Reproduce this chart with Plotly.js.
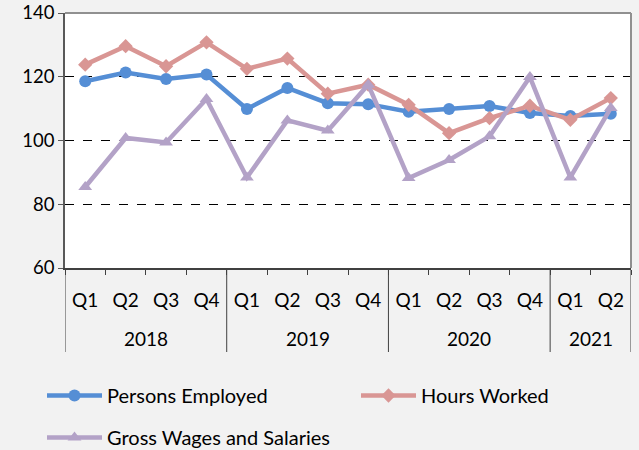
<!DOCTYPE html>
<html>
<head>
<meta charset="utf-8">
<script src="https://cdn.plot.ly/plotly-3.0.1.min.js"></script>
<style>html,body{margin:0;padding:0;background:#f2f2f2;}#chart{width:639px;height:450px;}</style>
</head>
<body>
<div id="chart"></div>
<script>
var years = ["2018","2018","2018","2018","2019","2019","2019","2019","2020","2020","2020","2020","2021","2021"];
var quarters = ["Q1","Q2","Q3","Q4","Q1","Q2","Q3","Q4","Q1","Q2","Q3","Q4","Q1","Q2"];
var personsEmployed = [118.6,121.3,119.3,120.7,109.9,116.5,111.7,111.4,109.0,109.9,110.8,108.6,107.7,108.4];
var hoursWorked = [123.8,129.6,123.3,130.8,122.5,125.7,114.7,117.5,111.2,102.3,107.0,110.9,106.5,113.3];
var grossWages = [85.4,100.8,99.4,113.0,88.4,106.3,103.1,117.5,88.2,93.9,101.3,119.9,88.4,110.2];

var idx = quarters.map(function(_, i){ return i; });
var font = "Lato, 'Open Sans', sans-serif";

function tr(name, y, color, symbol, size, legend) {
  return {
    type: "scatter", mode: "lines+markers", name: name,
    x: idx, y: y, legend: legend,
    line: {color: color, width: 4.5},
    marker: {color: color, symbol: symbol, size: size}
  };
}
var data = [
  tr("Persons Employed", personsEmployed, "#558ed5", "circle", 12, "legend"),
  tr("Hours Worked", hoursWorked, "#d99694", "diamond", 11, "legend2"),
  tr("Gross Wages and Salaries", grossWages, "#b3a2c7", "triangle-up", 12, "legend3")
];

// year groups from data
var groups = [];
years.forEach(function(y, i){
  if (!groups.length || groups[groups.length-1].year !== y) groups.push({year: y, start: i, end: i});
  else groups[groups.length-1].end = i;
});
var annotations = groups.map(function(g){
  return {xref: "x", yref: "paper", x: (g.start + g.end) / 2, y: -70/255, yanchor: "middle",
          text: g.year, showarrow: false, font: {size: 19, color: "#000"}};
});
var shapes = [];
groups.forEach(function(g, k){
  var bx = g.start - 0.5;
  shapes.push({type: "line", xref: "x", yref: "paper", x0: bx, x1: bx, y0: 0, y1: -84/255,
               line: {color: "#404040", width: 1}});
  if (k === groups.length - 1) {
    shapes.push({type: "line", xref: "x", yref: "paper", x0: g.end + 0.5, x1: g.end + 0.5, y0: 0, y1: -84/255,
                 line: {color: "#404040", width: 1}});
  }
});
shapes.push({type: "line", xref: "paper", yref: "paper", x0: 0, x1: 1, y0: 1, y1: 1, line: {color: "#909090", width: 2}});
shapes.push({type: "line", xref: "paper", yref: "paper", x0: 1, x1: 1, y0: 0, y1: 1, line: {color: "#909090", width: 2}});

function leg(xpx, ytop) {
  return {orientation: "h", xref: "container", yref: "container", x: xpx/639, xanchor: "left",
          y: 1 - ytop/450, yanchor: "top", itemwidth: 55, font: {size: 20}, bgcolor: "rgba(0,0,0,0)"};
}

var layout = {
  width: 639, height: 450,
  paper_bgcolor: "#f2f2f2", plot_bgcolor: "#ffffff",
  margin: {l: 65, r: 8, t: 13, b: 182},
  font: {family: font, size: 16, color: "#000"},
  showlegend: true,
  legend: leg(42, 376),
  legend2: leg(356, 376),
  legend3: leg(42, 418),
  xaxis: {
    range: [-0.5, quarters.length - 0.5],
    tickmode: "array", tickvals: idx, ticktext: quarters,
    showline: true, linecolor: "#404040", linewidth: 1.5,
    ticks: "outside", ticklen: 14, tickcolor: "rgba(0,0,0,0)",
    minor: {tickmode: "linear", tick0: -0.5, dtick: 1, ticks: "outside", ticklen: 5, tickcolor: "#404040", showgrid: false},
    showgrid: false, zeroline: false, tickfont: {size: 19}, automargin: false, fixedrange: true
  },
  yaxis: {
    range: [60, 140], dtick: 20, tick0: 60,
    showline: true, linecolor: "#595959", linewidth: 1.5,
    ticks: "outside", ticklen: 5, tickcolor: "#595959",
    showgrid: true, gridcolor: "#000000", griddash: "dash", gridwidth: 1.3,
    zeroline: false, tickfont: {size: 18.5}, automargin: false
  },
  annotations: annotations,
  shapes: shapes
};
Plotly.newPlot("chart", data, layout, {displayModeBar: false});
</script>
</body>
</html>
